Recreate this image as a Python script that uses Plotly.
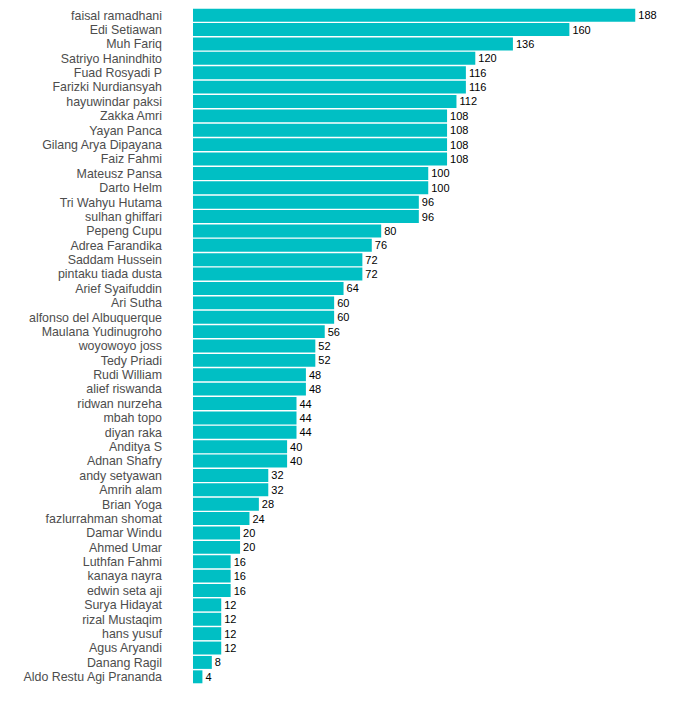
import plotly.graph_objects as go

# names and counts, top to bottom as shown in the chart
names = [
    "faisal ramadhani", "Edi Setiawan", "Muh Fariq", "Satriyo Hanindhito",
    "Fuad Rosyadi P", "Farizki Nurdiansyah", "hayuwindar paksi", "Zakka Amri",
    "Yayan Panca", "Gilang Arya Dipayana", "Faiz Fahmi", "Mateusz Pansa",
    "Darto Helm", "Tri Wahyu Hutama", "sulhan ghiffari", "Pepeng Cupu",
    "Adrea Farandika", "Saddam Hussein", "pintaku tiada dusta", "Arief Syaifuddin",
    "Ari Sutha", "alfonso del Albuquerque", "Maulana Yudinugroho", "woyowoyo joss",
    "Tedy Priadi", "Rudi William", "alief riswanda", "ridwan nurzeha",
    "mbah topo", "diyan raka", "Anditya S", "Adnan Shafry",
    "andy setyawan", "Amrih alam", "Brian Yoga", "fazlurrahman shomat",
    "Damar Windu", "Ahmed Umar", "Luthfan Fahmi", "kanaya nayra",
    "edwin seta aji", "Surya Hidayat", "rizal Mustaqim", "hans yusuf",
    "Agus Aryandi", "Danang Ragil", "Aldo Restu Agi Prananda",
]
counts = [
    188, 160, 136, 120, 116, 116, 112, 108, 108, 108, 108, 100, 100, 96, 96, 80,
    76, 72, 72, 64, 60, 60, 56, 52, 52, 48, 48, 44, 44, 44, 40, 40,
    32, 32, 28, 24, 20, 20, 16, 16, 16, 12, 12, 12, 12, 8, 4,
]

fig = go.Figure(go.Bar(
    x=counts,
    y=names,
    orientation="h",
    marker=dict(color="#00BFC4", line=dict(width=0)),
    text=counts,
    textposition="outside",
    cliponaxis=False,
    textfont=dict(family="Arial, Liberation Sans, sans-serif", size=11, color="#000000"),
))

# the page body adds an 8px offset, so the figure is a bit smaller than the window
fig.update_layout(
    width=687,
    height=707,
    margin=dict(l=185, r=8, t=0, b=31),
    plot_bgcolor="white",
    paper_bgcolor="white",
    bargap=0.1,
    showlegend=False,
    font=dict(family="Arial, Liberation Sans, sans-serif", size=12, color="#4d4d4d"),
)
fig.update_xaxes(range=[0, 210], visible=False, showgrid=False, zeroline=False)
# every name gets a label, so force the ticks instead of letting plotly thin them
fig.update_yaxes(
    autorange="reversed",
    tickmode="array",
    tickvals=names,
    ticktext=names,
    showgrid=False,
    zeroline=False,
    showline=False,
    ticks="",
    ticklabelstandoff=30,
    tickfont=dict(size=12.4, color="#4d4d4d"),
)

fig.write_html("out.html")
